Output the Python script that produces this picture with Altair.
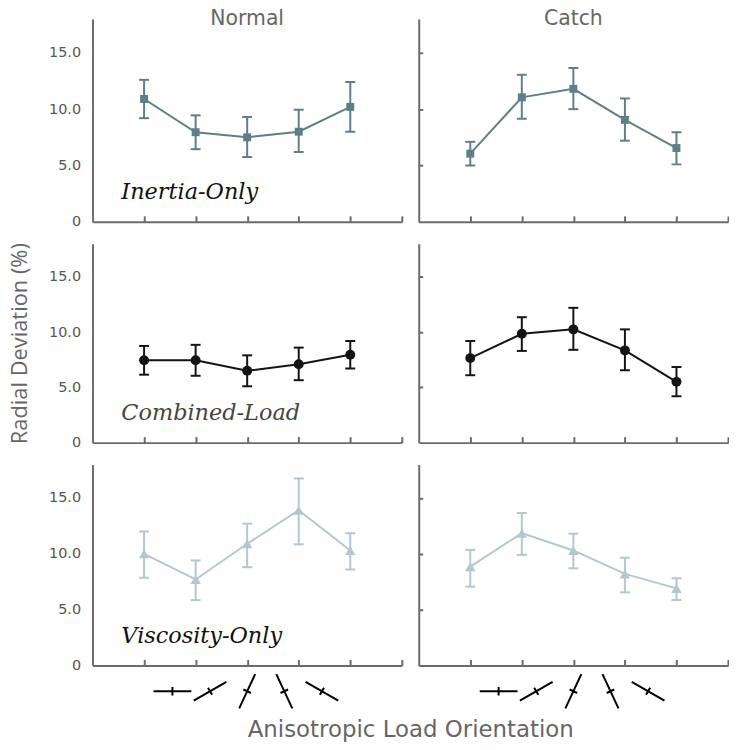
import altair as alt
import pandas as pd

# ---------------- data ----------------
conditions = ["Normal", "Catch"]
series_names = ["Inertia-Only", "Combined-Load", "Viscosity-Only"]
positions = [1, 2, 3, 4, 5]

inertia_normal = [10.9, 7.95, 7.5, 8.0, 10.2]
inertia_normal_lo = [9.2, 6.45, 5.75, 6.2, 8.0]
inertia_normal_hi = [12.6, 9.45, 9.3, 9.95, 12.4]
inertia_catch = [6.05, 11.05, 11.8, 9.05, 6.55]
inertia_catch_lo = [5.0, 9.15, 10.0, 7.2, 5.1]
inertia_catch_hi = [7.1, 13.05, 13.65, 10.95, 7.95]

combined_normal = [7.45, 7.45, 6.5, 7.1, 7.95]
combined_normal_lo = [6.15, 6.05, 5.1, 5.65, 6.7]
combined_normal_hi = [8.75, 8.85, 7.9, 8.6, 9.2]
combined_catch = [7.65, 9.85, 10.25, 8.35, 5.5]
combined_catch_lo = [6.1, 8.3, 8.4, 6.55, 4.2]
combined_catch_hi = [9.2, 11.35, 12.2, 10.25, 6.85]

viscosity_normal = [10.0, 7.7, 10.9, 13.9, 10.3]
viscosity_normal_lo = [7.85, 5.85, 8.8, 10.85, 8.6]
viscosity_normal_hi = [12.0, 9.4, 12.7, 16.75, 11.85]
viscosity_catch = [8.85, 11.85, 10.3, 8.2, 6.9]
viscosity_catch_lo = [7.05, 9.9, 8.7, 6.55, 5.85]
viscosity_catch_hi = [10.35, 13.65, 11.8, 9.65, 7.8]

y_ticks = [0, 5, 10, 15]
x_ticks = [1, 2, 3, 4, 5, 6]

# orientation glyphs under the bottom panels (degrees, counter-clockwise)
glyph_orientation = [0, 30, 65, 115, 150]
glyph_x = [1.55, 2.28, 3.0, 3.72, 4.45]

values = {
    ("Inertia-Only", "Normal"): (inertia_normal, inertia_normal_lo, inertia_normal_hi),
    ("Inertia-Only", "Catch"): (inertia_catch, inertia_catch_lo, inertia_catch_hi),
    ("Combined-Load", "Normal"): (combined_normal, combined_normal_lo, combined_normal_hi),
    ("Combined-Load", "Catch"): (combined_catch, combined_catch_lo, combined_catch_hi),
    ("Viscosity-Only", "Normal"): (viscosity_normal, viscosity_normal_lo, viscosity_normal_hi),
    ("Viscosity-Only", "Catch"): (viscosity_catch, viscosity_catch_lo, viscosity_catch_hi),
}

# ---------------- style ----------------
colors = {"Inertia-Only": "#5f7e85", "Combined-Load": "#141414", "Viscosity-Only": "#b3c8ce"}
shapes = {"Inertia-Only": "square", "Combined-Load": "circle", "Viscosity-Only": "triangle-up"}
sizes = {"Inertia-Only": 64, "Combined-Load": 100, "Viscosity-Only": 110}
label_colors = {"Inertia-Only": "#111111", "Combined-Load": "#444444", "Viscosity-Only": "#111111"}
row_heights = [204, 200, 202]
W = 311
AX = "#6b6b6b"
SANS = "DejaVu Sans"

xscale = alt.Scale(domain=[0, 6], nice=False, zero=False)
yscale = alt.Scale(domain=[0, 18], nice=False)

GLYPH = "M-1,0L1,0M0,-0.22L0,0.22"


def panel(r, c):
    s = series_names[r]
    cond = conditions[c]
    H = row_heights[r]
    v, lo, hi = values[(s, cond)]
    df = pd.DataFrame({"x": positions, "y": v, "lo": lo, "hi": hi})
    base = alt.Chart(df)
    col = colors[s]

    main_x = alt.Axis(domain=True, ticks=False, tickSize=0, labels=False, grid=False,
                      title=None, domainColor=AX, domainWidth=2, orient="bottom")
    main_y = alt.Axis(values=y_ticks, domain=True, ticks=False, tickSize=0,
                      labels=(c == 0), grid=False, orient="left",
                      labelExpr="datum.value == 0 ? '0' : format(datum.value, '.1f')",
                      labelPadding=12, labelFont=SANS, labelFontSize=14.5, labelColor="#555555",
                      title=("Radial Deviation (%)" if (c == 0 and r == 1) else None),
                      titleFont="Open Sans", titleFontSize=22, titleColor="#666666",
                      titleFontWeight="normal", titlePadding=17,
                      domainColor=AX, domainWidth=2)
    tick_x = alt.Axis(values=x_ticks, orient="bottom", offset=-6, domain=False, ticks=True,
                      tickSize=6, tickWidth=2, tickColor=AX, labels=False, grid=False, title=None)
    tick_y = (alt.Axis(values=[5, 10, 15], orient="left", offset=-4, domain=False, ticks=True,
                       tickSize=4, tickWidth=2, tickColor=AX, labels=False, grid=False, title=None)
              if c == 1 else None)

    line = base.mark_line(color=col, strokeWidth=2).encode(
        x=alt.X("x:Q", scale=xscale, axis=main_x),
        y=alt.Y("y:Q", scale=yscale, axis=main_y),
    )
    bars = base.mark_rule(color=col, strokeWidth=2).encode(
        x=alt.X("x:Q", scale=xscale, axis=tick_x),
        y=alt.Y("lo:Q", scale=yscale, axis=tick_y),
        y2="hi:Q",
    )
    cap_lo = base.mark_tick(color=col, orient="horizontal", size=10, thickness=2, opacity=1).encode(
        x=alt.X("x:Q", scale=xscale, axis=None),
        y=alt.Y("lo:Q", scale=yscale, axis=None),
    )
    cap_hi = base.mark_tick(color=col, orient="horizontal", size=10, thickness=2, opacity=1).encode(
        x=alt.X("x:Q", scale=xscale, axis=None),
        y=alt.Y("hi:Q", scale=yscale, axis=None),
    )
    pts = base.mark_point(filled=True, shape=shapes[s], size=sizes[s], color=col, opacity=1).encode(
        x=alt.X("x:Q", scale=xscale, axis=None),
        y=alt.Y("y:Q", scale=yscale, axis=None),
    )
    layers = [line, bars, cap_lo, cap_hi, pts]
    if r == 0:
        ttl = alt.Chart(pd.DataFrame({"t": [cond]})).mark_text(
            font=SANS, fontSize=20.5, color="#666666", align="center", baseline="alphabetic"
        ).encode(x=alt.value(W / 2), y=alt.value(6), text="t:N")
        layers.append(ttl)
    if c == 0:
        lab = alt.Chart(pd.DataFrame({"t": [s]})).mark_text(
            font="DejaVu Serif", fontStyle="italic", fontSize=22.5, align="left",
            baseline="alphabetic", color=label_colors[s]
        ).encode(x=alt.value(29), y=alt.value(H - 23), text="t:N")
        layers.append(lab)
    if r == 2:
        gdf = pd.DataFrame({"gx": glyph_x, "ori": glyph_orientation})
        glyphs = alt.Chart(gdf).transform_calculate(
            ang="(360 - datum.ori) % 360"
        ).mark_point(shape=GLYPH, size=1444, filled=False, stroke="#000000",
                     strokeWidth=2, opacity=1).encode(
            x=alt.X("gx:Q", scale=xscale, axis=None),
            y=alt.value(H + 26),
            angle=alt.Angle("ang:Q", scale=None),
        )
        layers.append(glyphs)
        if c == 0:
            xt = alt.Chart(pd.DataFrame({"t": ["Anisotropic Load Orientation"]})).mark_text(
                font=SANS, fontSize=23, color="#666666", align="center", baseline="middle"
            ).encode(x=alt.value(320), y=alt.value(H + 65), text="t:N")
            layers.append(xt)
    ch = alt.layer(*layers).resolve_axis(x="independent", y="independent")
    return ch.properties(width=W, height=H)


panels = [panel(r, c) for r in range(3) for c in range(2)]

chart = alt.concat(*panels, columns=2, spacing={"row": 22, "column": 17}).properties(
    bounds="flush", padding={"left": 0, "top": -1, "right": 0, "bottom": 0}
).configure_view(stroke=None)

chart.save("out.html", embed_options={"renderer": "svg", "actions": False})
